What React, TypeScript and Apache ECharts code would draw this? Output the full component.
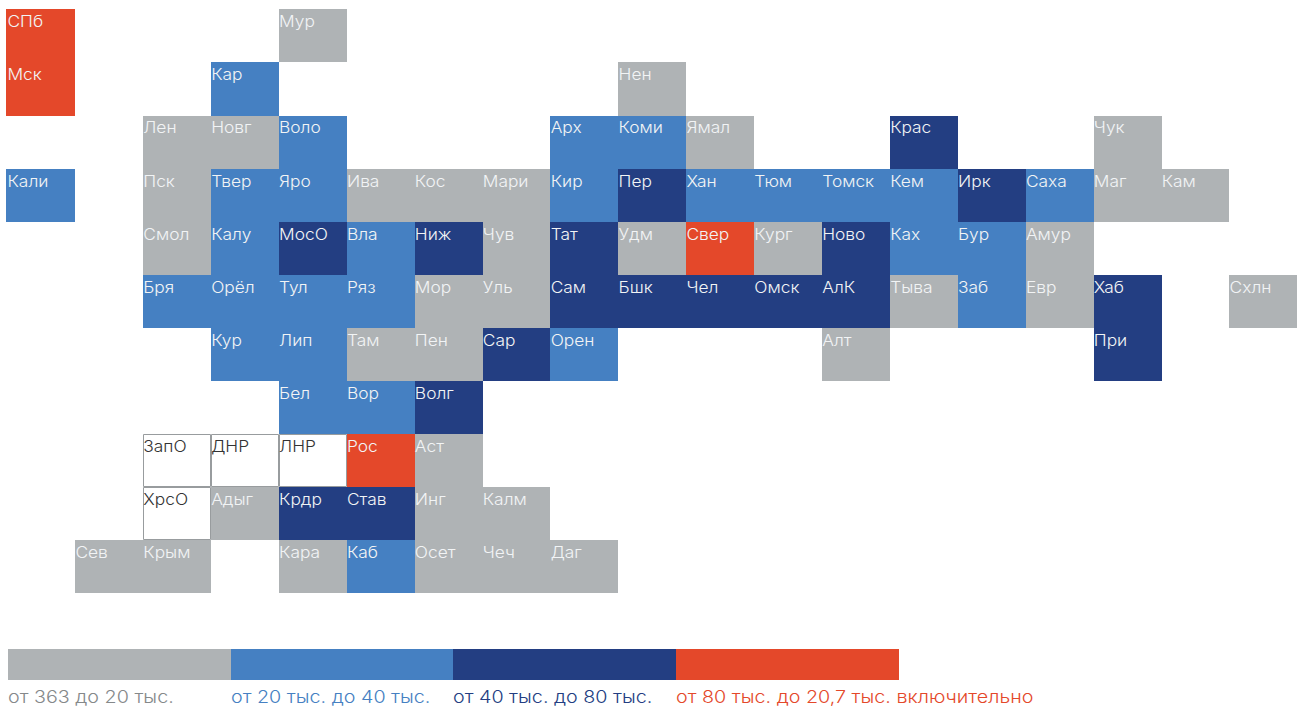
import React, { useEffect, useRef } from "react";
import * as echarts from "echarts";

const tierColors = ["#AFB3B5", "#4580C2", "#233E82", "#E4482A", "#FFFFFF"];
const legendLabels = [
  "от 363 до 20 тыс.",
  "от 20 тыс. до 40 тыс.",
  "от 40 тыс. до 80 тыс.",
  "от 80 тыс. до 20,7 тыс. включительно",
];
const legendTextColors = ["#85888A", "#4580C2", "#233E82", "#E4482A"];

// [name, column, tier]
const row0 = [["СПб", 0, 3], ["Мур", 4, 0]];
const row1 = [["Мск", 0, 3], ["Кар", 3, 1], ["Нен", 9, 0]];
const row2 = [["Лен", 2, 0], ["Новг", 3, 0], ["Воло", 4, 1], ["Арх", 8, 1], ["Коми", 9, 1], ["Ямал", 10, 0], ["Крас", 13, 2], ["Чук", 16, 0]];
const row3 = [["Кали", 0, 1], ["Пск", 2, 0], ["Твер", 3, 1], ["Яро", 4, 1], ["Ива", 5, 0], ["Кос", 6, 0], ["Мари", 7, 0], ["Кир", 8, 1], ["Пер", 9, 2], ["Хан", 10, 1], ["Тюм", 11, 1], ["Томск", 12, 1], ["Кем", 13, 1], ["Ирк", 14, 2], ["Саха", 15, 1], ["Маг", 16, 0], ["Кам", 17, 0]];
const row4 = [["Смол", 2, 0], ["Калу", 3, 1], ["МосО", 4, 2], ["Вла", 5, 1], ["Ниж", 6, 2], ["Чув", 7, 0], ["Тат", 8, 2], ["Удм", 9, 0], ["Свер", 10, 3], ["Кург", 11, 0], ["Ново", 12, 2], ["Ках", 13, 1], ["Бур", 14, 1], ["Амур", 15, 0]];
const row5 = [["Бря", 2, 1], ["Орёл", 3, 1], ["Тул", 4, 1], ["Ряз", 5, 1], ["Мор", 6, 0], ["Уль", 7, 0], ["Сам", 8, 2], ["Бшк", 9, 2], ["Чел", 10, 2], ["Омск", 11, 2], ["АлК", 12, 2], ["Тыва", 13, 0], ["Заб", 14, 1], ["Евр", 15, 0], ["Хаб", 16, 2], ["Схлн", 18, 0]];
const row6 = [["Кур", 3, 1], ["Лип", 4, 1], ["Там", 5, 0], ["Пен", 6, 0], ["Сар", 7, 2], ["Орен", 8, 1], ["Алт", 12, 0], ["При", 16, 2]];
const row7 = [["Бел", 4, 1], ["Вор", 5, 1], ["Волг", 6, 2]];
const row8 = [["ЗапО", 2, 4], ["ДНР", 3, 4], ["ЛНР", 4, 4], ["Рос", 5, 3], ["Аст", 6, 0]];
const row9 = [["ХрсО", 2, 4], ["Адыг", 3, 0], ["Крдр", 4, 2], ["Став", 5, 2], ["Инг", 6, 0], ["Калм", 7, 0]];
const row10 = [["Сев", 1, 0], ["Крым", 2, 0], ["Кара", 4, 0], ["Каб", 5, 1], ["Осет", 6, 0], ["Чеч", 7, 0], ["Даг", 8, 0]];
const allRows = [row0, row1, row2, row3, row4, row5, row6, row7, row8, row9, row10];

const FONT = "Inter, 'Noto Sans', sans-serif";

export default function App() {
  const ref = useRef<HTMLDivElement>(null);
  useEffect(() => {
    document.body.style.margin = "0";
    const chart = echarts.init(ref.current!, undefined, { renderer: "svg" });
    const data: any[] = [];
    allRows.forEach((cells, r) => {
      cells.forEach((c: any) => data.push([c[1], r, c[2], c[0]]));
    });
    const segX = [8, 231, 453, 676];
    const segEnd = [231, 453, 676, 899];
    chart.setOption({
      animation: false,
      backgroundColor: "#fff",
      grid: { left: 7.3, top: 9.4, width: 1290, height: 583.55, containLabel: false },
      xAxis: { type: "value", min: 0, max: 19, show: false },
      yAxis: { type: "value", min: 0, max: 11, inverse: true, show: false },
      graphic: [
        ...segX.map((x, i) => ({
          type: "rect",
          shape: { x, y: 649, width: segEnd[i] - x, height: 31 },
          style: { fill: tierColors[i] },
          silent: true,
        })),
        ...segX.map((x, i) => ({
          type: "text",
          x,
          y: 697,
          scaleX: 1.16,
          style: {
            text: legendLabels[i],
            fill: legendTextColors[i],
            font: `300 17px ${FONT}`,
            lineHeight: 16,
            verticalAlign: "middle",
          },
          silent: true,
        })),
      ],
      series: [
        {
          type: "custom",
          coordinateSystem: "cartesian2d",
          clip: false,
          data,
          encode: { x: 0, y: 1 },
          renderItem: (_p: any, api: any) => {
            const c = api.value(0);
            const r = api.value(1);
            const tier = api.value(2);
            const name = data[_p.dataIndex][3];
            const a = api.coord([c, r]);
            const b = api.coord([c + 1, r + 1]);
            const empty = tier === 4;
            const inset = empty ? 0.5 : 0;
            const x0 = Math.round(a[0]) - (c === 0 ? 1 : 0);
            const x1 = Math.round(b[0]);
            const y0 = Math.round(a[1]);
            const y1 = Math.round(b[1]);
            return {
              type: "group",
              children: [
                {
                  type: "rect",
                  shape: {
                    x: x0 + inset,
                    y: y0 + inset,
                    width: x1 - x0 - inset * 2,
                    height: y1 - y0 - inset * 2,
                  },
                  style: {
                    fill: tierColors[tier],
                    stroke: empty ? "#989C9E" : undefined,
                    lineWidth: empty ? 1 : 0,
                  },
                  z2: empty ? 2 : 1,
                },
                {
                  type: "text",
                  x: a[0] + 0.2,
                  y: a[1] + 12.3,
                  scaleX: 1.12,
                  style: {
                    text: name,
                    fill: empty ? "#333333" : "#F2F4F5",
                    font: `300 15.5px ${FONT}`,
                    verticalAlign: "middle",
                    align: "left",
                  },
                  z2: 5,
                },
              ],
            };
          },
        },
      ],
    });
    return () => chart.dispose();
  }, []);
  return <div ref={ref} style={{ width: 1298, height: 706, overflow: "hidden" }} />;
}
